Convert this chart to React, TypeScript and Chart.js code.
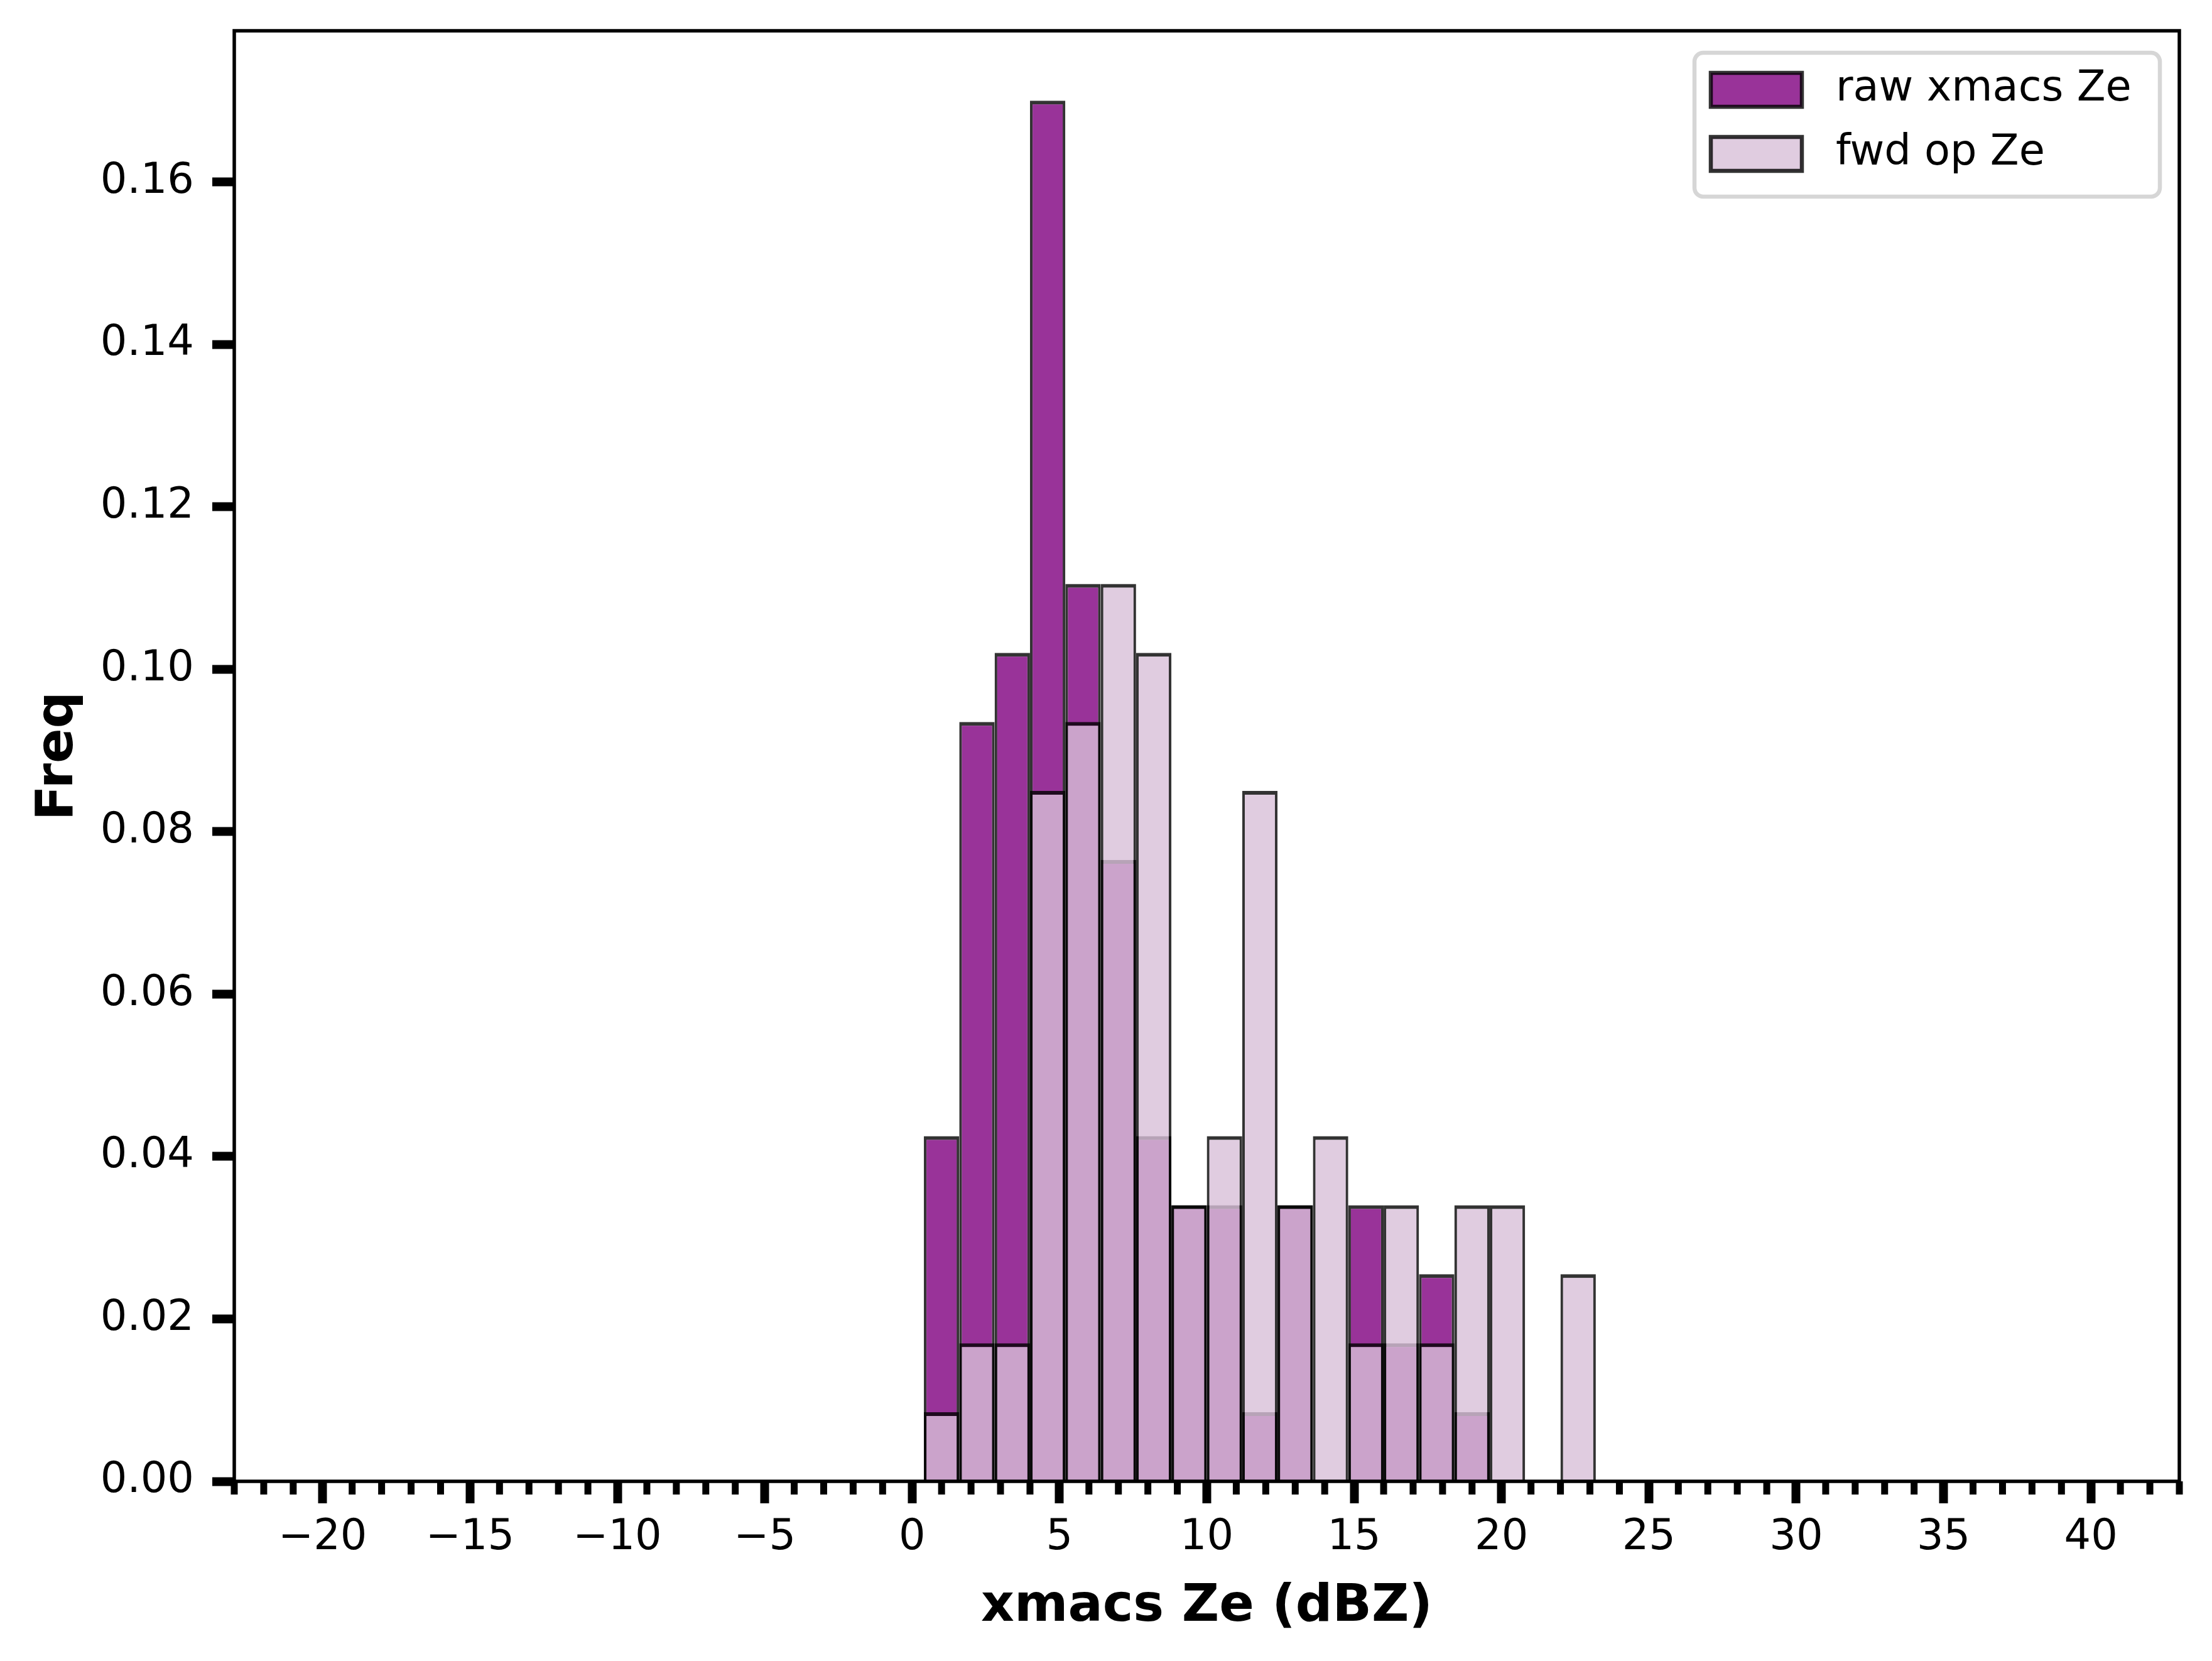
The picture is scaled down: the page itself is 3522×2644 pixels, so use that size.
import { useEffect, useRef } from "react";
import { Chart, registerables, type Plugin } from "chart.js";

Chart.register(...registerables);

// histogram bins (left edges, dBZ) and normalised frequencies
const binStarts = [0.4, 1.6, 2.8, 4.0, 5.2, 6.4, 7.6, 8.8, 10.0, 11.2, 12.4, 13.6, 14.8, 16.0, 17.2, 18.4, 19.6, 20.8, 22.0];
const BIN_WIDTH = 1.2;
const rawFreq = [0.0425, 0.0935, 0.102, 0.17, 0.1105, 0.0765, 0.0425, 0.034, 0.034, 0.0085, 0.034, 0, 0.034, 0.017, 0.0255, 0.0085, 0, 0, 0];
const fwdFreq = [0.0085, 0.017, 0.017, 0.085, 0.0935, 0.1105, 0.102, 0.034, 0.0425, 0.085, 0.034, 0.0425, 0.017, 0.034, 0.017, 0.034, 0.034, 0, 0.0255];
const seriesLabels = ["raw xmacs Ze", "fwd op Ze"];

const xTickValues = [-20, -15, -10, -5, 0, 5, 10, 15, 20, 25, 30, 35, 40];
const yTickValues = [0, 0.02, 0.04, 0.06, 0.08, 0.1, 0.12, 0.14, 0.16];

const RAW_FILL = "rgba(128, 0, 128, 0.8)";
const FWD_FILL = "rgba(216, 191, 216, 0.8)";
const EDGE = "rgba(0, 0, 0, 0.8)";
const FONT = "'DejaVu Sans', sans-serif";

const toPoints = (vals: number[]) =>
  binStarts.map((s, i) => ({ x: s + BIN_WIDTH / 2, y: vals[i] }));

// spines + minor x ticks (matplotlib style box)
const framePlugin: Plugin<"bar"> = {
  id: "frame",
  afterDatasetsDraw(chart) {
    const { ctx, chartArea: a } = chart;
    const x = chart.scales.x;
    ctx.save();
    ctx.strokeStyle = "#000";
    ctx.lineWidth = 11;
    for (let v = Math.ceil(x.min); v <= x.max; v++) {
      if (v % 5 === 0) continue;
      const px = x.getPixelForValue(v);
      ctx.beginPath();
      ctx.moveTo(px, a.bottom);
      ctx.lineTo(px, a.bottom + 21);
      ctx.stroke();
    }
    ctx.lineWidth = 5.5;
    ctx.strokeRect(a.left, a.top, a.right - a.left, a.bottom - a.top);
    ctx.restore();
  },
};

// legend box in upper right corner
const legendPlugin: Plugin<"bar"> = {
  id: "legendBox",
  afterDraw(chart) {
    const { ctx, chartArea: a } = chart;
    const boxW = 741;
    const boxH = 229;
    const left = a.right - 31 - boxW;
    const top = a.top + 35;
    ctx.save();
    ctx.beginPath();
    ctx.roundRect(left, top, boxW, boxH, 14);
    ctx.fillStyle = "rgba(255, 255, 255, 0.8)";
    ctx.fill();
    ctx.lineWidth = 6.5;
    ctx.strokeStyle = "#d6d6d6";
    ctx.stroke();

    ctx.font = `67px ${FONT}`;
    ctx.textBaseline = "middle";
    ctx.textAlign = "left";
    chart.data.datasets.forEach((ds, i) => {
      const cy = top + 59 + i * 102;
      ctx.fillStyle = ds.backgroundColor as string;
      ctx.fillRect(left + 26, cy - 27, 145, 54);
      ctx.strokeStyle = EDGE;
      ctx.lineWidth = 6.5;
      ctx.strokeRect(left + 26, cy - 27, 145, 54);
      ctx.fillStyle = "#000";
      ctx.fillText(ds.label ?? "", left + 225, cy);
    });
    ctx.restore();
  },
};

function HistChart() {
  const canvasRef = useRef<HTMLCanvasElement | null>(null);
  const chartRef = useRef<Chart<"bar", { x: number; y: number }[]> | null>(null);

  useEffect(() => {
    document.body.style.margin = "0";
    if (!canvasRef.current) return;
    const ctx = canvasRef.current.getContext("2d");
    if (!ctx) return;

    if (chartRef.current) chartRef.current.destroy();

    const edge = { top: 6, left: 4.2, right: 4.2, bottom: 0 };

    chartRef.current = new Chart(ctx, {
      type: "bar",
      data: {
        datasets: [
          {
            label: seriesLabels[0],
            data: toPoints(rawFreq),
            backgroundColor: RAW_FILL,
            borderColor: EDGE,
            borderWidth: edge,
            order: 1,
          },
          {
            label: seriesLabels[1],
            data: toPoints(fwdFreq),
            backgroundColor: FWD_FILL,
            borderColor: EDGE,
            borderWidth: edge,
            order: 0,
          },
        ],
      },
      plugins: [framePlugin, legendPlugin],
      options: {
        animation: false,
        responsive: false,
        devicePixelRatio: 1,
        grouped: false,
        barPercentage: 1,
        categoryPercentage: 1,
        inflateAmount: 0,
        borderSkipped: "start",
        layout: { padding: { left: 0, top: 49, right: 52, bottom: 0 } },
        plugins: {
          legend: { display: false },
          tooltip: { enabled: false },
        },
        scales: {
          x: {
            type: "linear",
            min: -23,
            max: 43,
            offset: false,
            afterBuildTicks: (scale) => {
              scale.ticks = xTickValues.map((v) => ({ value: v }));
            },
            afterFit: (scale) => {
              scale.height = 286;
              scale.paddingLeft = 0;
              scale.paddingRight = 0;
            },
            ticks: {
              autoSkip: false,
              maxRotation: 0,
              minRotation: 0,
              padding: 15,
              color: "#000",
              font: { family: FONT, size: 67 },
              callback: (v) => {
                const n = Number(v);
                return n < 0 ? "\u2212" + Math.abs(n) : String(n);
              },
            },
            grid: {
              offset: false,
              drawOnChartArea: false,
              drawTicks: true,
              tickLength: 35,
              tickWidth: 14,
              tickColor: "#000",
            },
            border: { display: false },
            title: {
              display: true,
              text: "xmacs Ze (dBZ)",
              color: "#000",
              font: { family: FONT, size: 82, weight: "bold" },
              padding: { top: 0, bottom: 36 },
            },
          },
          y: {
            type: "linear",
            min: 0,
            max: 0.1786,
            afterBuildTicks: (scale) => {
              scale.ticks = yTickValues.map((v) => ({ value: v }));
            },
            afterFit: (scale) => {
              scale.width = 373;
              scale.paddingTop = 0;
              scale.paddingBottom = 0;
            },
            ticks: {
              padding: 29,
              color: "#000",
              font: { family: FONT, size: 67 },
              callback: (v) => Number(v).toFixed(2),
            },
            grid: {
              offset: false,
              drawOnChartArea: false,
              drawTicks: true,
              tickLength: 35,
              tickWidth: 14,
              tickColor: "#000",
            },
            border: { display: false },
            title: {
              display: true,
              text: "Freq",
              color: "#000",
              font: { family: FONT, size: 82, weight: "bold" },
              padding: { top: 45, bottom: 0 },
            },
          },
        },
      },
    });

    return () => {
      chartRef.current?.destroy();
      chartRef.current = null;
    };
  }, []);

  return (
    <div style={{ width: 3522, height: 2644, background: "#fff" }}>
      <canvas ref={canvasRef} width={3522} height={2644} style={{ display: "block", width: 3522, height: 2644 }} />
    </div>
  );
}

export default function App() {
  return <HistChart />;
}
